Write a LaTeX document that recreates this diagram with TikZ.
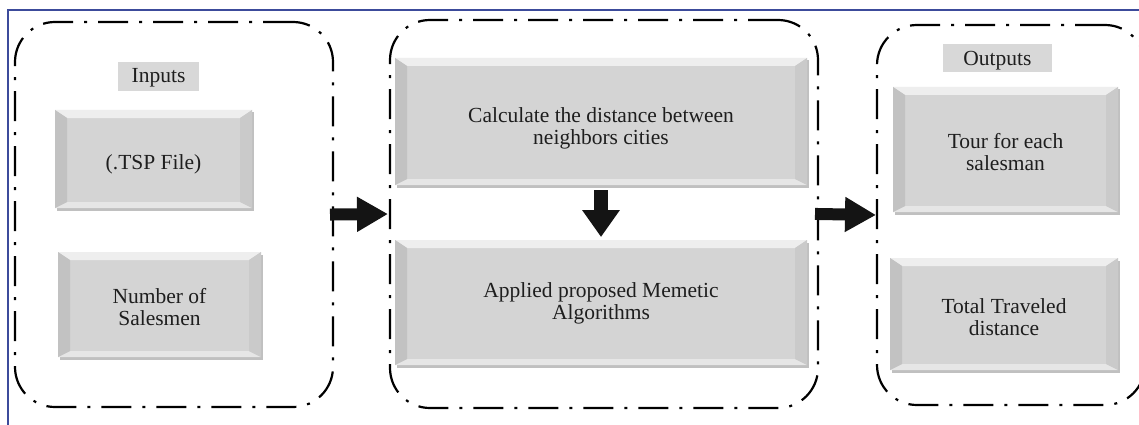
\documentclass[tikz,border=0pt]{standalone}
\usepackage{fontspec}
\setmainfont{Liberation Serif}
\usetikzlibrary{arrows.meta}
\definecolor{frameblue}{RGB}{60,75,155}
\definecolor{facegray}{RGB}{212,212,212}
\definecolor{topbev}{RGB}{238,238,238}
\definecolor{leftbev}{RGB}{194,194,194}
\definecolor{rightbev}{RGB}{202,202,202}
\definecolor{botbev}{RGB}{230,230,230}
\definecolor{shadowgray}{RGB}{192,192,192}
\definecolor{labelgray}{RGB}{216,216,216}
\definecolor{txt}{RGB}{30,30,30}
\definecolor{arrowblack}{RGB}{20,20,20}
\newcommand{\boxfont}{\fontsize{21.5}{22}\selectfont}
\tikzset{
  container/.style={draw=black, line width=2.2pt,
    dash pattern=on 30pt off 11pt on 3pt off 11pt,
    rounded corners=40pt, inner sep=0pt, outer sep=0pt},
  boxtext/.style={font=\boxfont, text=txt, align=center, inner sep=0pt},
  labelbox/.style={fill=labelgray, inner sep=0pt, outer sep=0pt},
  bevel/.style={fill=facegray, inner sep=0pt, outer sep=0pt,
    preaction={fill=shadowgray, transform canvas={xshift=1.5pt,yshift=-2.5pt}},
    path picture={
      \fill[topbev] (path picture bounding box.north west) -- (path picture bounding box.north east)
        -- ([xshift=-12pt,yshift=-8pt]path picture bounding box.north east)
        -- ([xshift=12pt,yshift=-8pt]path picture bounding box.north west) -- cycle;
      \fill[botbev] (path picture bounding box.south west) -- (path picture bounding box.south east)
        -- ([xshift=-12pt,yshift=6pt]path picture bounding box.south east)
        -- ([xshift=12pt,yshift=6pt]path picture bounding box.south west) -- cycle;
      \fill[leftbev] (path picture bounding box.north west) -- (path picture bounding box.south west)
        -- ([xshift=12pt,yshift=6pt]path picture bounding box.south west)
        -- ([xshift=12pt,yshift=-8pt]path picture bounding box.north west) -- cycle;
      \fill[rightbev] (path picture bounding box.north east) -- (path picture bounding box.south east)
        -- ([xshift=-12pt,yshift=6pt]path picture bounding box.south east)
        -- ([xshift=-12pt,yshift=-8pt]path picture bounding box.north east) -- cycle;
    }},
  blockarrow/.style={draw=arrowblack, line width=12pt,
    -{Triangle[length=31pt,width=33pt]}, arrowblack},
}
\begin{document}
\begin{tikzpicture}[x=1pt,y=-1pt]
\useasboundingbox (0,0) rectangle (1139,425);
\clip (0,0) rectangle (1139,425);
\fill[white] (0,0) rectangle (1139,425);
% outer frame (top and left edges)
\draw[frameblue, line width=1.2pt] (8,425) -- (8,10) -- (1139,10);
% containers
\node[container, minimum width=318pt, minimum height=385pt] (L) at (174,214.5) {};
\node[container, minimum width=428pt, minimum height=388pt] (M) at (604,214) {};
\node[container, minimum width=268pt, minimum height=380pt] (R) at (1011,215) {};
% labels
\node[labelbox, minimum width=81pt, minimum height=29pt,
  label={[boxtext, yshift=-1pt]center:Inputs}] (inl) at (158.5,76.5) {};
\node[labelbox, minimum width=109pt, minimum height=28pt,
  label={[boxtext, yshift=-3pt]center:Outputs}] (outl) at (997.5,58) {};
% bevel boxes
\node[bevel, minimum width=197pt, minimum height=98pt,
  label={[boxtext, yshift=-5pt]center:(.TSP File)}] (tsp) at (153.5,159) {};
\node[bevel, minimum width=203pt, minimum height=105pt,
  label={[boxtext, yshift=-3pt]center:Number of\\Salesmen}] (num) at (159.5,304.5) {};
\node[bevel, minimum width=412pt, minimum height=127pt,
  label={[boxtext, yshift=-7pt]center:Calculate the distance between\\neighbors cities}] (calc) at (601,121.5) {};
\node[bevel, minimum width=412pt, minimum height=125pt,
  label={[boxtext, yshift=-1pt]center:Applied proposed Memetic\\Algorithms}] (appl) at (601,302.5) {};
\node[bevel, minimum width=225pt, minimum height=125pt,
  label={[boxtext, yshift=-3pt]center:Tour for each\\salesman}] (tour) at (1005.5,149.5) {};
\node[bevel, minimum width=228pt, minimum height=112pt,
  label={[boxtext, yshift=-3pt]center:Total Traveled\\distance}] (total) at (1004,314) {};
% arrows
\draw[blockarrow, shorten <=-3pt, shorten >=2pt] (L.east) -- (M.west);
\draw[blockarrow, shorten <=-3pt, shorten >=1pt] (M.east) -- (R.west);
\draw[blockarrow, line width=14pt, -{Triangle[length=27pt,width=36pt]}, shorten <=5pt, shorten >=3pt] (calc.south) -- (appl.north);
\end{tikzpicture}
\end{document}
